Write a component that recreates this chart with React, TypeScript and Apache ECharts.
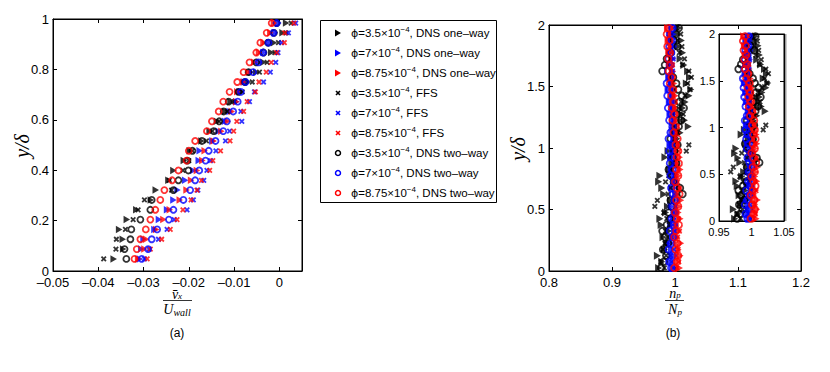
import React, { useEffect, useRef } from 'react';
import * as echarts from 'echarts';

// ---------- Left panel (a): mean streamwise velocity profiles ----------
const Y_LEFT = [0.048, 0.087, 0.126, 0.165, 0.204, 0.243, 0.282, 0.321, 0.360, 0.399, 0.438, 0.477, 0.516, 0.555, 0.594, 0.633, 0.672, 0.711, 0.750, 0.789, 0.828, 0.867, 0.906, 0.945, 0.984];

const L_ONE_35 = [-0.0366, -0.0345, -0.0346, -0.0354, -0.0337, -0.0316, -0.0284, -0.0273, -0.0245, -0.0234, -0.0211, -0.0198, -0.0172, -0.0154, -0.0138, -0.0120, -0.0108, -0.0085, -0.0070, -0.0051, -0.0035, -0.0018, -0.0012, 0.0007, 0.0015];
const L_ONE_7 = [-0.0308, -0.0305, -0.0300, -0.0276, -0.0266, -0.0248, -0.0234, -0.0225, -0.0208, -0.0190, -0.0178, -0.0176, -0.0148, -0.0134, -0.0120, -0.0110, -0.0095, -0.0088, -0.0077, -0.0062, -0.0045, -0.0035, -0.0022, -0.0010, -0.0002];
const L_ONE_875 = [-0.0312, -0.0298, -0.0294, -0.0272, -0.0256, -0.0242, -0.0220, -0.0205, -0.0195, -0.0182, -0.0170, -0.0165, -0.0145, -0.0128, -0.0114, -0.0105, -0.0095, -0.0093, -0.0080, -0.0067, -0.0055, -0.0045, -0.0035, -0.0020, -0.0012];
const L_FFS_35 = [-0.0388, -0.0361, -0.0360, -0.0340, -0.0323, -0.0312, -0.0298, -0.0238, -0.0243, -0.0213, -0.0200, -0.0192, -0.0161, -0.0148, -0.0133, -0.0115, -0.0100, -0.0082, -0.0060, -0.0044, -0.0027, -0.0010, -0.0002, 0.0015, 0.0026];
const L_FFS_7 = [-0.0298, -0.0288, -0.0267, -0.0248, -0.0232, -0.0204, -0.0190, -0.0180, -0.0167, -0.0160, -0.0152, -0.0140, -0.0119, -0.0110, -0.0083, -0.0085, -0.0066, -0.0055, -0.0035, -0.0020, -0.0008, -0.0003, 0.0005, 0.0020, 0.0036];
const L_FFS_875 = [-0.0292, -0.0285, -0.0260, -0.0241, -0.0226, -0.0213, -0.0195, -0.0182, -0.0172, -0.0154, -0.0147, -0.0130, -0.0109, -0.0101, -0.0094, -0.0079, -0.0071, -0.0053, -0.0045, -0.0029, -0.0018, -0.0006, 0.0011, 0.0012, 0.0032];
const L_TWO_35 = [-0.0338, -0.0342, -0.0329, -0.0327, -0.0307, -0.0285, -0.0282, -0.0234, -0.0223, -0.0201, -0.0203, -0.0192, -0.0171, -0.0145, -0.0133, -0.0123, -0.0112, -0.0090, -0.0076, -0.0068, -0.0051, -0.0035, -0.0025, -0.0012, -0.0006];
const L_TWO_7 = [-0.0304, -0.0290, -0.0282, -0.0270, -0.0244, -0.0234, -0.0212, -0.0197, -0.0186, -0.0177, -0.0163, -0.0156, -0.0141, -0.0124, -0.0116, -0.0102, -0.0092, -0.0085, -0.0075, -0.0058, -0.0046, -0.0036, -0.0024, -0.0013, -0.0006];
const L_TWO_875 = [-0.0320, -0.0315, -0.0307, -0.0295, -0.0285, -0.0274, -0.0263, -0.0254, -0.0237, -0.0223, -0.0205, -0.0200, -0.0186, -0.0160, -0.0149, -0.0134, -0.0124, -0.0110, -0.0093, -0.0079, -0.0066, -0.0051, -0.0042, -0.0028, -0.0017];

// ---------- Right panel (b): normalised concentration ----------
const Y_RIGHT = [0.025, 0.075, 0.125, 0.175, 0.225, 0.275, 0.325, 0.375, 0.425, 0.475, 0.525, 0.575, 0.625, 0.675, 0.725, 0.775, 0.825, 0.875, 0.925, 0.975, 1.025, 1.075, 1.125, 1.175, 1.225, 1.275, 1.325, 1.375, 1.425, 1.475, 1.525, 1.575, 1.625, 1.675, 1.725, 1.775, 1.825, 1.875, 1.925, 1.975];

const R_ONE_35 = [0.974, 0.979, 0.972, 0.983, 0.987, 0.981, 0.990, 0.978, 0.976, 0.985, 0.988, 0.993, 0.982, 0.979, 0.974, 0.976, 0.991, 0.995, 0.984, 0.989, 0.996, 1.003, 1.008, 1.021, 1.015, 1.010, 1.012, 1.016, 1.022, 1.025, 1.018, 1.023, 1.020, 1.014, 1.008, 1.012, 1.005, 1.010, 1.003, 1.006];
const R_ONE_7 = [0.996, 0.992, 0.998, 0.994, 0.991, 0.997, 0.999, 0.993, 0.998, 1.000, 0.994, 0.999, 1.001, 0.995, 1.000, 0.997, 0.994, 0.999, 0.993, 0.997, 0.992, 0.998, 0.995, 0.999, 0.996, 0.992, 0.996, 0.991, 0.995, 0.989, 0.994, 0.990, 0.996, 0.991, 0.997, 0.992, 0.998, 0.993, 0.997, 0.995];
const R_ONE_875 = [1.007, 1.004, 1.008, 1.005, 1.009, 1.003, 1.006, 1.002, 1.008, 1.005, 1.006, 1.009, 1.003, 1.007, 1.002, 1.005, 1.008, 1.003, 1.007, 1.001, 1.005, 1.000, 1.004, 0.998, 1.002, 0.997, 1.001, 0.996, 1.000, 0.995, 0.998, 0.993, 0.996, 0.991, 0.995, 0.990, 0.994, 0.989, 0.993, 0.988];
const R_FFS_35 = [0.983, 0.978, 0.986, 0.981, 0.984, 0.988, 0.985, 0.991, 0.987, 0.982, 0.968, 0.972, 0.989, 0.993, 0.985, 0.990, 0.994, 0.997, 0.992, 1.018, 1.022, 1.000, 1.004, 0.998, 1.008, 1.013, 1.006, 1.010, 1.016, 1.024, 1.020, 1.026, 1.022, 1.012, 1.015, 1.007, 1.011, 1.004, 1.009, 1.002];
const R_FFS_7 = [0.997, 0.995, 0.993, 0.998, 0.996, 0.994, 0.999, 0.997, 0.995, 0.998, 1.000, 0.997, 0.999, 1.001, 0.997, 0.999, 0.996, 0.998, 0.997, 0.994, 0.996, 0.999, 0.997, 0.994, 0.998, 0.996, 0.993, 0.997, 0.992, 0.995, 0.991, 0.994, 0.996, 0.993, 0.997, 0.995, 0.998, 0.996, 0.994, 0.997];
const R_FFS_875 = [1.003, 1.006, 1.002, 1.005, 1.001, 1.004, 1.007, 1.002, 1.005, 1.003, 1.001, 1.005, 1.003, 1.007, 1.004, 1.002, 1.005, 1.003, 1.001, 1.006, 1.003, 1.000, 1.002, 1.004, 0.999, 1.001, 0.998, 1.000, 0.997, 0.999, 0.995, 0.997, 0.993, 0.996, 0.992, 0.994, 0.991, 0.993, 0.990, 0.994];
const R_TWO_35 = [0.978, 0.982, 0.986, 0.981, 0.989, 0.984, 0.980, 0.987, 0.992, 0.990, 0.995, 0.993, 1.012, 1.008, 0.998, 0.994, 0.990, 1.002, 0.996, 0.999, 1.004, 0.993, 1.000, 1.006, 1.010, 1.003, 1.014, 1.007, 1.011, 1.005, 1.002, 0.997, 0.980, 0.984, 0.987, 0.993, 1.004, 0.998, 1.001, 1.006];
const R_TWO_7 = [0.994, 0.991, 0.996, 0.990, 0.994, 0.997, 0.992, 0.998, 0.995, 0.999, 0.996, 1.000, 0.997, 0.994, 0.999, 0.993, 0.996, 0.992, 0.995, 0.991, 0.994, 0.990, 0.993, 0.996, 0.991, 0.994, 0.989, 0.993, 0.988, 0.991, 0.987, 0.992, 0.989, 0.993, 0.990, 0.994, 0.991, 0.995, 0.992, 0.996];
const R_TWO_875 = [0.999, 1.003, 1.005, 1.001, 1.004, 0.999, 1.002, 1.006, 1.003, 1.000, 1.005, 1.002, 1.007, 1.003, 1.000, 1.005, 1.002, 1.006, 1.003, 1.005, 1.001, 1.004, 0.998, 1.001, 0.996, 0.999, 0.995, 0.998, 0.994, 0.997, 0.992, 0.995, 0.990, 0.993, 0.989, 0.992, 0.988, 0.991, 0.987, 0.990];

// Tick values
const LEFT_X_TICKS = { min: -0.05, max: 0.005, interval: 0.01 };
const LEFT_Y_TICKS = { min: 0, max: 1, interval: 0.2 };
const RIGHT_X_TICKS = { min: 0.8, max: 1.2, interval: 0.1 };
const RIGHT_Y_TICKS = { min: 0, max: 2, interval: 0.5 };
const INSET_X_TICKS = { min: 0.95, max: 1.05, interval: 0.05 };

const LEGEND_LABELS = [
  ['3.5', 'DNS one–way'],
  ['7', 'DNS one–way'],
  ['8.75', 'DNS one–way'],
  ['3.5', 'FFS'],
  ['7', 'FFS'],
  ['8.75', 'FFS'],
  ['3.5', 'DNS two–way'],
  ['7', 'DNS two–way'],
  ['8.75', 'DNS two–way'],
];

const BLACK = '#000000';
const BLUE = '#0000ff';
const RED = '#ff0000';
const COLORS = [BLACK, BLUE, RED, BLACK, BLUE, RED, BLACK, BLUE, RED];
const KINDS = ['tri', 'tri', 'tri', 'x', 'x', 'x', 'o', 'o', 'o'];

const LEFT_SETS = [L_ONE_35, L_ONE_7, L_ONE_875, L_FFS_35, L_FFS_7, L_FFS_875, L_TWO_35, L_TWO_7, L_TWO_875];
const RIGHT_SETS = [R_ONE_35, R_ONE_7, R_ONE_875, R_FFS_35, R_FFS_7, R_FFS_875, R_TWO_35, R_TWO_7, R_TWO_875];

const TRI = 'path://M0,0L10,5L0,10Z';
const CROSS = 'path://M0,0L10,10M0,10L10,0';

const fmt = (v: number) => String(parseFloat(v.toFixed(4))).replace('-', '–');

function symbolFor(kind: string, color: string, big: boolean) {
  if (kind === 'tri') {
    return { symbol: TRI, symbolSize: big ? [7, 8] : [6.5, 7.5], itemStyle: { color } };
  }
  if (kind === 'x') {
    return { symbol: CROSS, symbolSize: 4.5, itemStyle: { color, borderColor: color, borderWidth: 1.8 } };
  }
  return { symbol: 'circle', symbolSize: big ? 6.5 : 6, itemStyle: { color: 'rgba(0,0,0,0)', borderColor: color, borderWidth: 1.8 } };
}

const FONT = 'Liberation Sans, Arial, sans-serif';

function makeAxes(gridIndex: number, ticks: any, dir: 'x' | 'y', fontSize: number, extra: any = {}) {
  const common = {
    gridIndex,
    type: 'value',
    min: ticks.min,
    max: ticks.max,
    interval: ticks.interval,
    splitLine: { show: false },
    axisLine: { show: true, onZero: false, lineStyle: { color: '#000', width: 1 } },
    axisTick: { show: true, inside: true, length: 4, lineStyle: { color: '#000' } },
  };
  const first = {
    ...common,
    position: dir === 'x' ? 'bottom' : 'left',
    axisLabel: {
      show: true,
      color: '#000',
      fontSize,
      fontFamily: FONT,
      margin: dir === 'x' ? 5 : 4,
      formatter: fmt,
      ...extra,
    },
  };
  const second = {
    ...common,
    position: dir === 'x' ? 'top' : 'right',
    axisLabel: { show: false },
  };
  return [first, second];
}

export default function App() {
  const ref = useRef<HTMLDivElement>(null);

  useEffect(() => {
    if (!ref.current) return;
    const chart = echarts.init(ref.current, undefined, { renderer: 'svg' });

    const series: any[] = [];
    LEFT_SETS.forEach((xs, k) => {
      series.push({
        type: 'scatter',
        xAxisIndex: 0,
        yAxisIndex: 0,
        data: Y_LEFT.map((y, i) => [xs[i], y]),
        ...symbolFor(KINDS[k], COLORS[k], false),
        emphasis: { disabled: true },
      });
    });
    RIGHT_SETS.forEach((xs, k) => {
      series.push({
        type: 'scatter',
        xAxisIndex: 2,
        yAxisIndex: 2,
        data: Y_RIGHT.map((y, i) => [xs[i], y]),
        ...symbolFor(KINDS[k], COLORS[k], true),
        emphasis: { disabled: true },
      });
      series.push({
        type: 'scatter',
        xAxisIndex: 4,
        yAxisIndex: 4,
        data: Y_RIGHT.map((y, i) => [xs[i], y]),
        ...symbolFor(KINDS[k], COLORS[k], true),
        emphasis: { disabled: true },
      });
    });

    const xAxes = [
      ...makeAxes(0, LEFT_X_TICKS, 'x', 13, { showMaxLabel: false }),
      ...makeAxes(1, RIGHT_X_TICKS, 'x', 13),
      ...makeAxes(2, INSET_X_TICKS, 'x', 11),
    ];
    const yAxes = [
      ...makeAxes(0, LEFT_Y_TICKS, 'y', 13),
      ...makeAxes(1, RIGHT_Y_TICKS, 'y', 13),
      ...makeAxes(2, RIGHT_Y_TICKS, 'y', 11),
    ];

    // legend drawn as graphic elements
    const legendEls: any[] = [
      {
        type: 'rect',
        shape: { x: 320.5, y: 20.5, width: 176, height: 182 },
        style: { fill: '#fff', stroke: '#000', lineWidth: 1 },
        z: 10,
      },
    ];
    LEGEND_LABELS.forEach(([phi, kind], k) => {
      const cy = 33 + k * 20;
      const cx = 338;
      const color = COLORS[k];
      if (KINDS[k] === 'tri') {
        legendEls.push({
          type: 'polygon',
          shape: { points: [[cx - 3, cy - 3.5], [cx + 3, cy], [cx - 3, cy + 3.5]] },
          style: { fill: color },
          z: 11,
        });
      } else if (KINDS[k] === 'x') {
        legendEls.push({ type: 'line', shape: { x1: cx - 2, y1: cy - 2, x2: cx + 2, y2: cy + 2 }, style: { stroke: color, lineWidth: 1.6 }, z: 11 });
        legendEls.push({ type: 'line', shape: { x1: cx - 2, y1: cy + 2, x2: cx + 2, y2: cy - 2 }, style: { stroke: color, lineWidth: 1.6 }, z: 11 });
      } else {
        legendEls.push({ type: 'circle', shape: { cx, cy, r: 2.5 }, style: { fill: 'none', stroke: color, lineWidth: 1.5 }, z: 11 });
      }
      legendEls.push({
        type: 'text',
        x: 351,
        y: cy,
        z: 11,
        style: {
          text: `{p|ϕ}=${phi}×10{sup|−4}, ${kind}`,
          fontSize: 11.5,
          fontFamily: FONT,
          fill: '#000',
          verticalAlign: 'middle',
          align: 'left',
          rich: {
            p: { fontSize: 11, fontFamily: 'DejaVu Sans', fill: '#000' },
            sup: { fontSize: 8, fontFamily: FONT, fill: '#000', padding: [0, 0, 7, 0] },
          },
        },
      });
    });

    const serif = 'Liberation Serif, DejaVu Serif, serif';
    const labelEls: any[] = [
      // y/δ labels
      { type: 'text', x: 22, y: 146, rotation: Math.PI / 2, style: { text: 'y/δ', font: `italic 20px ${serif}`, fill: '#000', align: 'center', verticalAlign: 'middle' } },
      { type: 'text', x: 518, y: 149, rotation: Math.PI / 2, style: { text: 'y/δ', font: `italic 20px ${serif}`, fill: '#000', align: 'center', verticalAlign: 'middle' } },
      // left fraction
      {
        type: 'text', x: 177, y: 294,
        style: {
          text: '{v|v̄}{s|x}', align: 'center', verticalAlign: 'middle',
          rich: {
            v: { font: `italic 14px ${serif}`, fill: '#000', lineHeight: 10 },
            s: { font: `italic 9px ${serif}`, fill: '#000', lineHeight: 10, padding: [3, 0, 0, 0] },
          },
        },
      },
      { type: 'line', shape: { x1: 163, y1: 300.5, x2: 192, y2: 300.5 }, style: { stroke: '#000', lineWidth: 0.8 } },
      {
        type: 'text', x: 177, y: 309,
        style: {
          text: '{u|U}{s|wall}', align: 'center', verticalAlign: 'middle',
          rich: {
            u: { font: `italic 14px ${serif}`, fill: '#000' },
            s: { font: `italic 10px ${serif}`, fill: '#000', padding: [6, 0, 0, 0] },
          },
        },
      },
      // right fraction
      {
        type: 'text', x: 675, y: 293.5,
        style: {
          text: '{v|n}{s|p}', align: 'center', verticalAlign: 'middle',
          rich: {
            v: { font: `italic 14px ${serif}`, fill: '#000', lineHeight: 10 },
            s: { font: `italic 9px ${serif}`, fill: '#000', lineHeight: 10, padding: [3, 0, 0, 0] },
          },
        },
      },
      { type: 'line', shape: { x1: 665, y1: 300.5, x2: 684, y2: 300.5 }, style: { stroke: '#000', lineWidth: 0.8 } },
      {
        type: 'text', x: 675, y: 309,
        style: {
          text: '{u|N}{s|p}', align: 'center', verticalAlign: 'middle',
          rich: {
            u: { font: `italic 14px ${serif}`, fill: '#000' },
            s: { font: `italic 9px ${serif}`, fill: '#000', padding: [6, 0, 0, 0] },
          },
        },
      },
      { type: 'text', x: 177, y: 333, style: { text: '(a)', font: `12px ${FONT}`, fill: '#000', align: 'center', verticalAlign: 'middle' } },
      { type: 'text', x: 673, y: 333, style: { text: '(b)', font: `12px ${FONT}`, fill: '#000', align: 'center', verticalAlign: 'middle' } },
      // inset shadow edge
      { type: 'line', shape: { x1: 785.5, y1: 34, x2: 785.5, y2: 221 }, style: { stroke: '#9a9a9a', lineWidth: 2 } },
    ];

    chart.setOption({
      animation: false,
      backgroundColor: '#fff',
      grid: [
        { left: 53, top: 19, width: 249, height: 252, show: true, borderColor: '#000', borderWidth: 1, containLabel: false },
        { left: 549, top: 25, width: 252, height: 246, show: true, borderColor: '#000', borderWidth: 1, containLabel: false },
        { left: 719, top: 34, width: 65, height: 187, show: true, borderColor: '#000', borderWidth: 1, backgroundColor: '#fff', containLabel: false },
      ],
      xAxis: xAxes,
      yAxis: yAxes,
      series,
      graphic: [...legendEls, ...labelEls],
    });

    return () => chart.dispose();
  }, []);

  return (
    <div
      ref={ref}
      style={{ position: 'fixed', left: 0, top: 0, width: 830, height: 372, background: '#fff' }}
    />
  );
}
